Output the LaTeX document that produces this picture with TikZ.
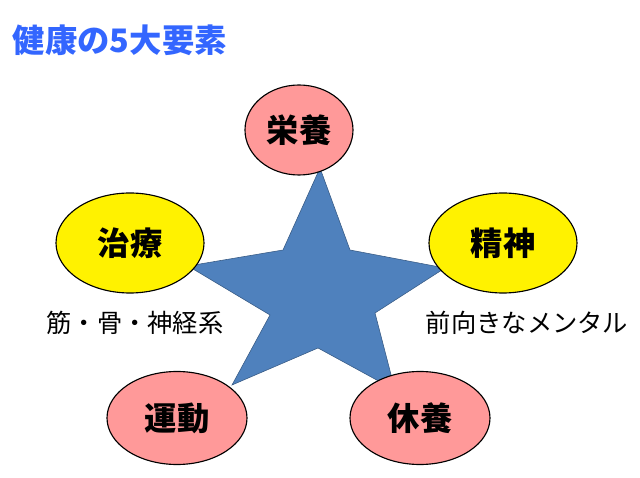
\documentclass[tikz,border=0pt]{standalone}
\usepackage{fontspec}
\setmainfont{Noto Sans CJK JP}
\usetikzlibrary{shapes.geometric}
\definecolor{pinkfill}{HTML}{FF9999}
\definecolor{starblue}{HTML}{4F81BD}
\definecolor{titleblue}{HTML}{3366FF}
\tikzset{
  elem/.style={ellipse,draw=black,thick,inner sep=0pt,font=\bfseries\fontsize{23}{25}\selectfont},
  note/.style={font=\fontsize{18}{20}\selectfont}
}
\begin{document}
\begin{tikzpicture}[x=0.025cm,y=-0.025cm]
\useasboundingbox (0,0) rectangle (640,478);
\node[anchor=west,text=titleblue,font=\bfseries\fontsize{23}{25}\selectfont] (title) at (8,40) {健康の5大要素};
% star
\draw[fill=starblue,draw=starblue!70!black] (320,168) -- (350,250) -- (445,268) -- (375,313)
  -- (395,390) -- (318,348) -- (232,385) -- (270,315) -- (188,266) -- (283,250) -- cycle;
\node[elem,fill=pinkfill,minimum width=108*0.025cm,minimum height=90*0.025cm] (eiyo) at (299,130) {栄養};
\node[elem,fill=yellow,minimum width=148*0.025cm,minimum height=100*0.025cm] (seishin) at (503,243) {精神};
\node[elem,fill=yellow,minimum width=148*0.025cm,minimum height=100*0.025cm] (chiryo) at (130,243) {治療};
\node[elem,fill=pinkfill,minimum width=140*0.025cm,minimum height=93*0.025cm] (undo) at (177,418) {運動};
\node[elem,fill=pinkfill,minimum width=140*0.025cm,minimum height=93*0.025cm] (kyuyo) at (420,418) {休養};
\node[note] (kin) at (135,323) {筋・骨・神経系};
\node[note] (mental) at (527,323) {前向きなメンタル};
\end{tikzpicture}
\end{document}
